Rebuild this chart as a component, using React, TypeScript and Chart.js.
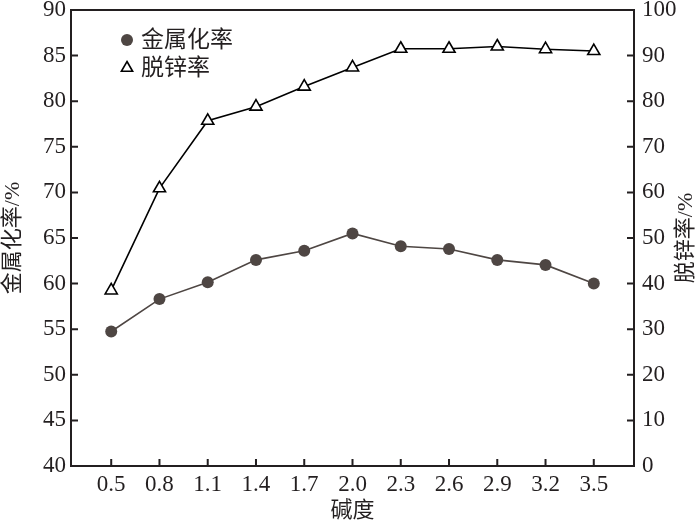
import React, { useEffect, useRef } from "react";
import { Chart, registerables } from "chart.js";

Chart.register(...registerables);

const basicity = [0.5, 0.8, 1.1, 1.4, 1.7, 2.0, 2.3, 2.6, 2.9, 3.2, 3.5];
const metallization = [54.75, 58.3, 60.15, 62.6, 63.6, 65.5, 64.1, 63.8, 62.6, 62.05, 60.0];
const dezinc = [38.5, 60.9, 75.7, 78.8, 83.2, 87.4, 91.5, 91.5, 92.0, 91.4, 91.0];
const leftTicks = [40, 45, 50, 55, 60, 65, 70, 75, 80, 85, 90];
const rightTicks = [0, 10, 20, 30, 40, 50, 60, 70, 80, 90, 100];

const seriesNames = ["金属化率", "脱锌率"];
const leftTitle = "金属化率/%";
const rightTitle = "脱锌率/%";
const xTitle = "碱度";

const FONT = "'Liberation Serif', 'Noto Sans CJK SC', serif";
const DOT = "#4e4643";
const INK = "#231f20";

const overlay = {
  id: "overlay",
  afterDraw(chart: any) {
    const { ctx, chartArea: a, scales } = chart;
    ctx.save();
    ctx.strokeStyle = INK;
    ctx.lineWidth = 2;
    ctx.strokeRect(a.left, a.top, a.right - a.left, a.bottom - a.top);
    const tl = 7;
    ctx.beginPath();
    for (const v of leftTicks) {
      const y = scales.y.getPixelForValue(v);
      ctx.moveTo(a.left, y);
      ctx.lineTo(a.left + tl, y);
    }
    for (const v of rightTicks) {
      const y = scales.y2.getPixelForValue(v);
      ctx.moveTo(a.right, y);
      ctx.lineTo(a.right - tl, y);
    }
    for (const v of basicity) {
      const x = scales.x.getPixelForValue(v);
      ctx.moveTo(x, a.bottom);
      ctx.lineTo(x, a.bottom - tl);
    }
    ctx.stroke();

    // titles
    ctx.fillStyle = INK;
    ctx.font = `22px ${FONT}`;
    ctx.textAlign = "center";
    ctx.textBaseline = "middle";
    const cy = (a.top + a.bottom) / 2;
    ctx.save();
    ctx.translate(13, cy);
    ctx.rotate(-Math.PI / 2);
    ctx.fillText(leftTitle, 0, 0);
    ctx.restore();
    ctx.save();
    ctx.translate(686, cy);
    ctx.rotate(-Math.PI / 2);
    ctx.fillText(rightTitle, 0, 0);
    ctx.restore();
    ctx.fillText(xTitle, (a.left + a.right) / 2, 511);

    // legend
    const lx = a.left + 56;
    const ly1 = a.top + 30;
    const ly2 = a.top + 58;
    ctx.beginPath();
    ctx.fillStyle = DOT;
    ctx.arc(lx, ly1, 6, 0, Math.PI * 2);
    ctx.fill();
    ctx.beginPath();
    const r = 6.5;
    ctx.moveTo(lx, ly2 - r);
    ctx.lineTo(lx + r * Math.sin((2 * Math.PI) / 3), ly2 + r / 2);
    ctx.lineTo(lx - r * Math.sin((2 * Math.PI) / 3), ly2 + r / 2);
    ctx.closePath();
    ctx.lineWidth = 1.6;
    ctx.strokeStyle = "#000";
    ctx.stroke();
    ctx.fillStyle = INK;
    ctx.textAlign = "left";
    ctx.font = `23px ${FONT}`;
    ctx.fillText(seriesNames[0], lx + 14, ly1 + 1);
    ctx.fillText(seriesNames[1], lx + 14, ly2 + 1);
    ctx.restore();
  },
};

const noPad = (s: any) => {
  s.paddingTop = 0;
  s.paddingBottom = 0;
  s.paddingLeft = 0;
  s.paddingRight = 0;
};

export default function App() {
  const ref = useRef<HTMLCanvasElement>(null);
  useEffect(() => {
    if (!ref.current) return;
    const chart = new Chart(ref.current, {
      type: "line",
      data: {
        datasets: [
          {
            label: seriesNames[0],
            data: basicity.map((x, i) => ({ x, y: metallization[i] })),
            yAxisID: "y",
            borderColor: DOT,
            backgroundColor: DOT,
            borderWidth: 1.6,
            pointRadius: 6,
            pointStyle: "circle",
            pointBackgroundColor: DOT,
            pointBorderColor: DOT,
            pointBorderWidth: 0,
          },
          {
            label: seriesNames[1],
            data: basicity.map((x, i) => ({ x, y: dezinc[i] })),
            yAxisID: "y2",
            borderColor: "#000",
            backgroundColor: "#fff",
            borderWidth: 1.6,
            pointRadius: 7,
            pointStyle: "triangle",
            pointBackgroundColor: "#fff",
            pointBorderColor: "#000",
            pointBorderWidth: 1.6,
          },
        ],
      },
      options: {
        animation: false,
        responsive: false,
        devicePixelRatio: 1,
        layout: { padding: { top: 10, left: 0, right: 0, bottom: 0 } },
        plugins: { legend: { display: false }, tooltip: { enabled: false } },
        scales: {
          x: {
            type: "linear",
            min: 0.25,
            max: 3.75,
            afterBuildTicks: (s: any) => {
              s.ticks = basicity.map((v) => ({ value: v }));
            },
            afterFit: (s: any) => {
              s.height = 57;
              noPad(s);
            },
            grid: { display: false, drawTicks: false },
            border: { display: false },
            ticks: {
              color: INK,
              font: { family: FONT, size: 23 },
              padding: 5,
              maxRotation: 0,
              autoSkip: false,
              callback: (v: any) => Number(v).toFixed(1),
            },
          },
          y: {
            position: "left",
            min: 40,
            max: 90,
            afterBuildTicks: (s: any) => {
              s.ticks = leftTicks.map((v) => ({ value: v }));
            },
            afterFit: (s: any) => {
              s.width = 71;
              noPad(s);
            },
            grid: { display: false, drawTicks: false },
            border: { display: false },
            ticks: { color: INK, font: { family: FONT, size: 23 }, padding: 5 },
          },
          y2: {
            position: "right",
            min: 0,
            max: 100,
            afterBuildTicks: (s: any) => {
              s.ticks = rightTicks.map((v) => ({ value: v }));
            },
            afterFit: (s: any) => {
              s.width = 66;
              noPad(s);
            },
            grid: { display: false, drawTicks: false },
            border: { display: false },
            ticks: { color: INK, font: { family: FONT, size: 23 }, padding: 8 },
          },
        },
      },
      plugins: [overlay],
    });
    return () => chart.destroy();
  }, []);
  return (
    <div style={{ position: "fixed", left: 0, top: 0, width: 700, height: 523, background: "#fff" }}>
      <canvas ref={ref} width={700} height={523} />
    </div>
  );
}
